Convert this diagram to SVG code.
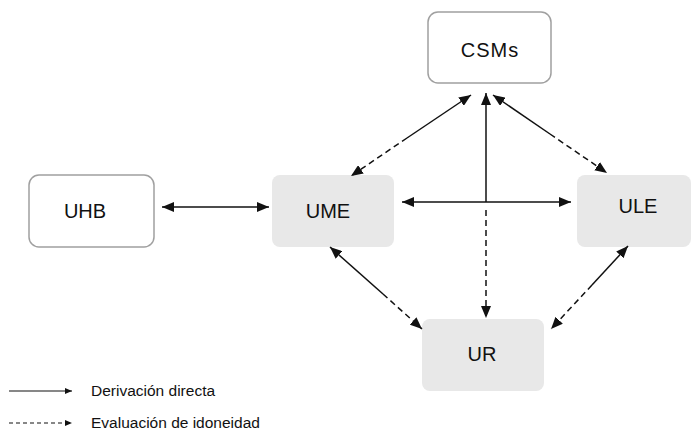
<svg xmlns="http://www.w3.org/2000/svg" width="691" height="432" viewBox="0 0 691 432">
<style>
.box{fill:#fff;stroke:#a0a0a0;stroke-width:1.5}
.gbox{fill:#e8e8e8;stroke:none}
.lbl{font-family:"Liberation Sans",Arial,sans-serif;font-size:20px;fill:#111;text-anchor:middle}
.leg{font-family:"Liberation Sans",Arial,sans-serif;font-size:15.5px;fill:#111}
.ln{fill:none;stroke:#111;stroke-width:1.5}
.d{stroke-dasharray:6 4}
.ld{stroke-dasharray:4 3}
</style>
<defs>
<marker id="ah" viewBox="0 0 12 10" refX="12" refY="5" markerWidth="12" markerHeight="10" markerUnits="userSpaceOnUse" orient="auto-start-reverse">
<path d="M0,0 L12,5 L0,10 z" fill="#111"/>
</marker>
<marker id="sh" viewBox="0 0 7 6" refX="7" refY="3" markerWidth="7" markerHeight="6" markerUnits="userSpaceOnUse" orient="auto">
<path d="M0,0 L7,3 L0,6 z" fill="#111"/>
</marker>
</defs>
<g id="CSMs"><rect class="box" x="428" y="12" width="123" height="71" rx="10"/><text class="lbl" x="490" y="57" letter-spacing="1">CSMs</text></g>
<g id="UHB"><rect class="box" x="29" y="175" width="125" height="72" rx="10"/><text class="lbl" x="85" y="218">UHB</text></g>
<g id="UME"><rect class="gbox" x="272" y="175" width="122" height="72" rx="8"/><text class="lbl" x="328" y="218">UME</text></g>
<g id="ULE"><rect class="gbox" x="577" y="175" width="114" height="72" rx="8"/><text class="lbl" x="638" y="213">ULE</text></g>
<g id="UR"><rect class="gbox" x="422" y="319" width="122" height="72" rx="8"/><text class="lbl" x="482" y="361">UR</text></g>
<g id="connectors">
<path class="ln" d="M162,207 L269,207" marker-start="url(#ah)" marker-end="url(#ah)"/>
<path class="ln" d="M402,202 L571,202" marker-start="url(#ah)" marker-end="url(#ah)"/>
<path class="ln" d="M486,202 L486,93" marker-end="url(#ah)"/>
<path class="ln d" d="M486,210 L486,318" marker-end="url(#ah)"/>
<path class="ln" d="M471,95 L407,138" marker-start="url(#ah)"/>
<path class="ln d" d="M407,138 L351,176" marker-end="url(#ah)"/>
<path class="ln" d="M493,95 L550,134" marker-start="url(#ah)"/>
<path class="ln d" d="M550,134 L607,173" marker-end="url(#ah)"/>
<path class="ln" d="M330,247 L383,294" marker-start="url(#ah)"/>
<path class="ln d" d="M383,294 L422,329" marker-end="url(#ah)"/>
<path class="ln" d="M628,246 L592,285" marker-start="url(#ah)"/>
<path class="ln d" d="M592,285 L551,329" marker-end="url(#ah)"/>
</g>
<g id="legend">
<path class="ln" style="stroke-width:1.2" d="M9,391 L72,391" marker-end="url(#sh)"/>
<text class="leg" x="91" y="396">Derivación directa</text>
<path class="ln ld" style="stroke-width:1.2" d="M9,423 L72,423" marker-end="url(#sh)"/>
<text class="leg" x="91" y="428">Evaluación de idoneidad</text>
</g>
</svg>
